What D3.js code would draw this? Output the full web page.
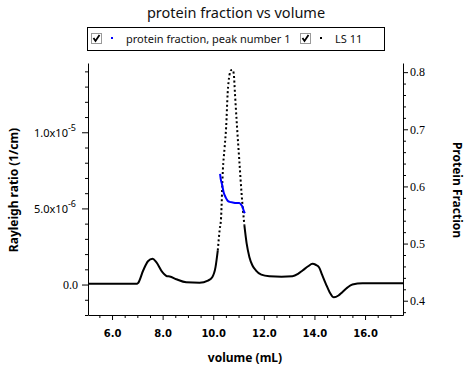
<!DOCTYPE html>
<html>
<head>
<meta charset="utf-8">
<script src="https://cdn.jsdelivr.net/npm/d3@7"></script>
<style>
  body { margin: 0; background: #fff; }
  svg { display: block; }
  .axis path, .axis line { stroke: #000; }
  .axis text { fill: #000; }
</style>
</head>
<body>
<div id="chart"></div>
<script>
// light scattering trace (LS 11), volume in mL
const lsVolume = [5.05, 6.0, 7.0, 7.03, 7.23, 7.42, 7.6, 7.75, 7.99, 8.17, 8.28, 8.54, 8.93, 9.46, 9.79, 9.96,
  10.09, 10.18, 10.25, 10.31, 10.38, 10.45, 10.51, 10.57, 10.64, 10.71, 10.76, 10.81, 10.86, 10.94, 11.03,
  11.12, 11.23, 11.32, 11.43, 11.55, 11.69, 11.9, 12.22, 12.7, 13.13, 13.35, 13.53, 13.75, 13.92, 14.05,
  14.18, 14.3, 14.45, 14.6, 14.77, 14.95, 15.1, 15.3, 15.5, 15.9, 16.5, 17.5];
const lsRayleigh = [0.05e-6, 0.05e-6, 0.06e-6, 0.1e-6, 0.92e-6, 1.53e-6, 1.69e-6, 1.47e-6, 0.81e-6, 0.55e-6, 0.53e-6,
  0.35e-6, 0.15e-6, 0.12e-6, 0.26e-6, 0.48e-6, 1.14e-6, 2.24e-6, 3.55e-6, 4.4e-6, 7.5e-6, 9.0e-6, 10.35e-6,
  12.56e-6, 13.75e-6, 14.08e-6, 14.1e-6, 13.86e-6, 12.5e-6, 10.35e-6, 8.16e-6, 5.97e-6, 3.9e-6, 2.7e-6,
  1.8e-6, 1.25e-6, 0.92e-6, 0.65e-6, 0.55e-6, 0.52e-6, 0.55e-6, 0.7e-6, 0.92e-6, 1.2e-6, 1.36e-6, 1.3e-6,
  1.14e-6, 0.65e-6, 0.05e-6, -0.5e-6, -0.84e-6, -0.72e-6, -0.5e-6, -0.2e-6, 0.0, 0.08e-6, 0.08e-6, 0.08e-6];

// protein fraction, peak number 1
const pfVolume = [10.27, 10.3, 10.34, 10.41, 10.5, 10.57, 10.65, 10.77, 10.9, 11.03, 11.1, 11.16, 11.2, 11.25];
const pfValue = [0.622, 0.612, 0.605, 0.59, 0.58, 0.575, 0.573, 0.572, 0.571, 0.571, 0.568, 0.564, 0.558, 0.553];

const xTicks = [6, 8, 10, 12, 14, 16];
const xTickLabels = ["6.0", "8.0", "10.0", "12.0", "14.0", "16.0"];
const leftTicks = [0, 5e-6, 1e-5];
const leftTickLabels = [["0.0", ""], ["5.0x10", "-6"], ["1.0x10", "-5"]];
const rightTicks = [0.4, 0.5, 0.6, 0.7, 0.8];
const rightTickLabels = ["0.4", "0.5", "0.6", "0.7", "0.8"];

const W = 472, H = 369;
const plot = { left: 88, right: 403, top: 63, bottom: 315 };

const svg = d3.select("#chart").append("svg")
  .attr("width", W).attr("height", H);

const x = d3.scaleLinear().domain([5.05, 17.5]).range([plot.left, plot.right]);
const yL = d3.scaleLinear().domain([-2e-6, 1.455e-5]).range([plot.bottom, plot.top]);
const yR = d3.scaleLinear().domain([0.375, 0.816]).range([plot.bottom, plot.top]);

// title
svg.append("text")
  .attr("x", 236).attr("y", 18)
  .attr("text-anchor", "middle")
  .style("font-family", "'Noto Sans', sans-serif")
  .style("font-size", "14.5px")
  .attr("fill", "#111")
  .text("protein fraction vs volume");

// legend
const legend = svg.append("g");
legend.append("rect")
  .attr("x", 87.5).attr("y", 27.5).attr("width", 297).attr("height", 23)
  .attr("fill", "#fff").attr("stroke", "#000");

function checkbox(cx) {
  legend.append("rect")
    .attr("x", cx + 0.5).attr("y", 33.5).attr("width", 10).attr("height", 10)
    .attr("fill", "#fff").attr("stroke", "#999");
  legend.append("path")
    .attr("d", `M${cx + 2.5},${38} L${cx + 4.5},${41} L${cx + 8.5},${35}`)
    .attr("fill", "none").attr("stroke", "#000").attr("stroke-width", 1.8);
}
checkbox(91);
legend.append("rect").attr("x", 111).attr("y", 37).attr("width", 2).attr("height", 2).attr("fill", "#0000ff");
legend.append("text").attr("x", 126).attr("y", 43)
  .style("font-family", "'Noto Sans', sans-serif").style("font-size", "11px").attr("fill", "#111")
  .text("protein fraction, peak number 1");
checkbox(300);
legend.append("rect").attr("x", 320).attr("y", 37).attr("width", 2).attr("height", 2).attr("fill", "#000");
legend.append("text").attr("x", 335).attr("y", 43)
  .style("font-family", "'Noto Sans', sans-serif").style("font-size", "11px").attr("fill", "#111")
  .text("LS  11");

// bottom axis
const xMinor = d3.range(5.5, 17.5, 0.5).filter(v => v % 2 !== 0);
svg.append("g").attr("class", "axis")
  .attr("transform", `translate(0,${plot.bottom})`)
  .call(d3.axisBottom(x).tickValues(xMinor).tickSize(3).tickFormat(""))
  .call(g => g.select(".domain").remove());
svg.append("g").attr("class", "axis")
  .attr("transform", `translate(0,${plot.bottom})`)
  .call(d3.axisBottom(x).tickValues(xTicks).tickSize(5).tickSizeOuter(0)
    .tickFormat((d, i) => xTickLabels[i]))
  .call(g => g.selectAll("text")
    .attr("dy", null).attr("y", 22)
    .style("font-family", "'DejaVu Sans', sans-serif")
    .style("font-size", "10px").style("font-weight", "bold"));

// left axis
const leftMinor = d3.range(-2e-6, 1.5e-5, 1e-6).filter(v => Math.abs(v % 5e-6) > 1e-9 && Math.abs(Math.abs(v % 5e-6) - 5e-6) > 1e-9);
svg.append("g").attr("class", "axis")
  .attr("transform", `translate(${plot.left},0)`)
  .call(d3.axisLeft(yL).tickValues(leftMinor).tickSize(3).tickFormat(""))
  .call(g => g.select(".domain").remove());
const leftAxis = svg.append("g").attr("class", "axis")
  .attr("transform", `translate(${plot.left},0)`)
  .call(d3.axisLeft(yL).tickValues(leftTicks).tickSize(6).tickSizeOuter(0).tickFormat(""));
leftAxis.selectAll(".tick").each(function(d, i) {
  const t = d3.select(this).append("text")
    .attr("x", i === 0 ? -10 : -12).attr("y", 4)
    .attr("text-anchor", "end")
    .style("font-size", "11px");
  if (i === 0) {
    t.style("font-family", "'Liberation Serif', serif").style("font-size", "12px").text(leftTickLabels[i][0]);
  } else {
    t.style("font-family", "'Noto Sans', sans-serif").attr("fill", "#3a3a3a");
    t.append("tspan").text(leftTickLabels[i][0]);
    t.append("tspan").attr("dy", -6).style("font-size", "9px").text(leftTickLabels[i][1]);
  }
});

// right axis
const rightMinor = d3.range(0.38, 0.816, 0.02).filter(v => Math.abs(v * 10 - Math.round(v * 10)) > 1e-6);
svg.append("g").attr("class", "axis")
  .attr("transform", `translate(${plot.right},0)`)
  .call(d3.axisRight(yR).tickValues(rightMinor).tickSize(3).tickFormat(""))
  .call(g => g.select(".domain").remove());
svg.append("g").attr("class", "axis")
  .attr("transform", `translate(${plot.right},0)`)
  .call(d3.axisRight(yR).tickValues(rightTicks).tickSize(5).tickSizeOuter(0)
    .tickFormat((d, i) => rightTickLabels[i]))
  .call(g => g.selectAll("text")
    .attr("x", 7)
    .style("font-family", "'Liberation Serif', serif")
    .style("font-size", "12px"));

// axis titles
svg.append("text")
  .attr("x", 245).attr("y", 362)
  .attr("text-anchor", "middle")
  .style("font-family", "'Noto Sans', sans-serif")
  .style("font-size", "12px").style("font-weight", "bold")
  .text("volume (mL)");
svg.append("text")
  .attr("transform", "translate(18,190) rotate(-90)")
  .attr("text-anchor", "middle")
  .style("font-family", "'Noto Sans', sans-serif")
  .style("font-size", "12px").style("font-weight", "bold")
  .text("Rayleigh ratio (1/cm)");
svg.append("text")
  .attr("transform", "translate(453,190) rotate(90)")
  .attr("text-anchor", "middle")
  .style("font-family", "'Noto Sans', sans-serif")
  .style("font-size", "12px").style("font-weight", "bold")
  .text("Protein Fraction");

// series
const lsData = lsVolume.map((v, i) => [v, lsRayleigh[i]]);
const pfData = pfVolume.map((v, i) => [v, pfValue[i]]);
const lsLine = d3.line().x(d => x(d[0])).y(d => yL(d[1])).curve(d3.curveMonotoneX);

// steep part of the main peak is drawn with sparse points, the rest is dense
const steepStart = lsVolume.indexOf(10.18), steepEnd = lsVolume.indexOf(11.23);
svg.append("path")
  .datum(lsData.slice(0, steepStart + 1))
  .attr("fill", "none").attr("stroke", "#000").attr("stroke-width", 2)
  .attr("d", lsLine);
svg.append("path")
  .datum(lsData.slice(steepStart, steepEnd + 1))
  .attr("fill", "none").attr("stroke", "#000").attr("stroke-width", 2)
  .attr("stroke-dasharray", "2,2.5")
  .attr("d", lsLine);
svg.append("path")
  .datum(lsData.slice(steepEnd))
  .attr("fill", "none").attr("stroke", "#000").attr("stroke-width", 2)
  .attr("d", lsLine);

svg.append("path")
  .datum(pfData)
  .attr("fill", "none").attr("stroke", "#0000ff").attr("stroke-width", 2)
  .attr("d", d3.line().x(d => x(d[0])).y(d => yR(d[1])).curve(d3.curveMonotoneX));
</script>
</body>
</html>
